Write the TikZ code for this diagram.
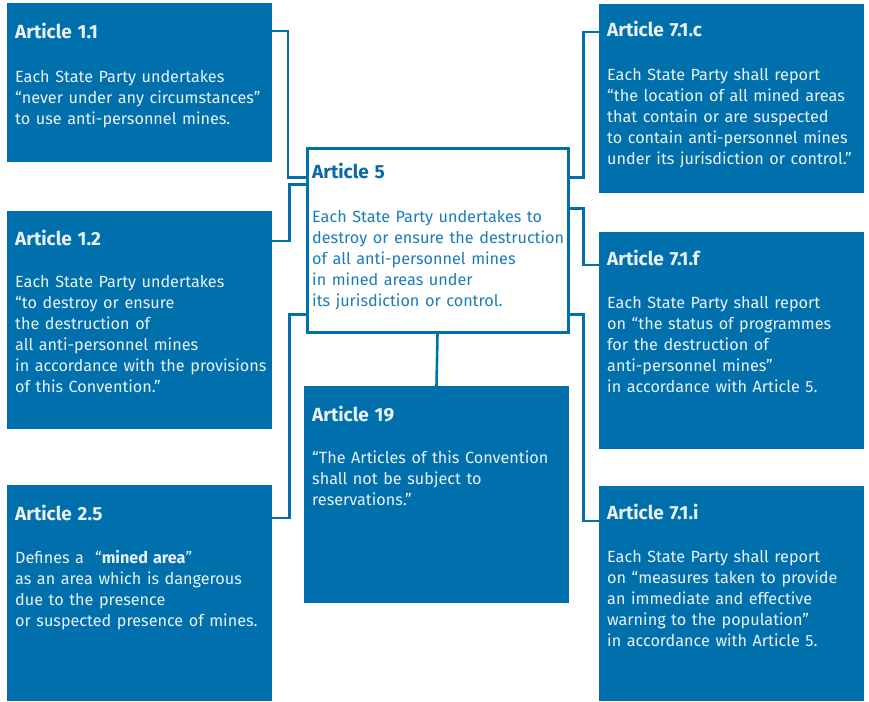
\documentclass[tikz,border=0pt]{standalone}
\usepackage{fontspec}
\setmainfont[WordSpace={1.3}]{Fira Sans}
\usetikzlibrary{calc}
\definecolor{unblue}{RGB}{0,112,172}
\definecolor{boxtext}{RGB}{234,241,247}
\definecolor{ctext}{RGB}{28,124,186}
\definecolor{ctitle}{RGB}{10,105,165}
\begin{document}
\begin{tikzpicture}[x=1pt,y=-1pt,
  box/.style={fill=unblue,draw=none,anchor=north west,inner sep=0pt,outer sep=0pt},
  cbox/.style={fill=white,draw=unblue,line width=3pt,anchor=north west,inner sep=0pt,outer sep=1.5pt},
  ttl/.style={anchor=base west,inner sep=0pt,font=\fontsize{19}{21}\selectfont\bfseries,text=boxtext},
  bdy/.style={anchor=north west,inner sep=0pt,align=left,font=\fontsize{16.2}{21}\selectfont,text=boxtext},
  link/.style={draw=unblue,line width=2.6pt}]
\useasboundingbox (0,0) rectangle (869,701);
% boxes
\node[box,minimum width=265pt,minimum height=159pt] (a11) at (7,3) {};
\node[box,minimum width=265pt,minimum height=218pt] (a12) at (7,211) {};
\node[box,minimum width=265pt,minimum height=216pt] (a25) at (7,485) {};
\node[cbox,minimum width=261pt,minimum height=184pt] (a5) at (305.5,146.5) {};
\node[box,minimum width=265pt,minimum height=217pt] (a19) at (304,386) {};
\node[box,minimum width=265pt,minimum height=189pt] (a71c) at (599,4) {};
\node[box,minimum width=265pt,minimum height=217pt] (a71f) at (599,232) {};
\node[box,minimum width=265pt,minimum height=215pt] (a71i) at (599,486) {};
% connectors
\draw[link] ($(a11.north east)+(0,28)$) -- ++(16,0) |- ($(a5.north west)+(0,31)$);
\draw[link] ($(a5.north west)+(0,38)$) -- ++(-16,0) |- ($(a12.north east)+(0,30)$);
\draw[link] ($(a5.north west)+(0,168)$) -- ++(-16,0) |- ($(a25.north east)+(0,33)$);
\draw[link] (a5.south) -- (a19.north);
\draw[link] ($(a5.north east)+(0,31)$) -- ++(14,0) |- ($(a71c.north west)+(0,28)$);
\draw[link] ($(a5.north east)+(0,62)$) -- ++(14,0) |- ($(a71f.north west)+(0,33)$);
\draw[link] ($(a5.north east)+(0,168)$) -- ++(14,0) |- ($(a71i.north west)+(0,35)$);
% Article 1.1
\node[ttl] (t11) at (15,38) {Article 1.1};
\node[bdy] (b11) at (15,67.3) {\strut Each State Party undertakes\\“never under any circumstances”\\to use anti-personnel mines.};
% Article 1.2
\node[ttl] (t12) at (15,245) {Article 1.2};
\node[bdy] (b12) at (15,272.3) {\strut Each State Party undertakes\\“to destroy or ensure\\the destruction of\\all anti-personnel mines\\in accordance with the provisions\\of this Convention.”};
% Article 2.5
\node[ttl] (t25) at (15,520) {Article 2.5};
\node[bdy] (b25) at (15,548.3) {\strut Defines a \ “\textbf{mined area}”\\as an area which is dangerous\\due to the presence\\or suspected presence of mines.};
% Article 5
\node[ttl,text=ctitle] (t5) at (312,178) {Article 5};
\node[bdy,text=ctext] (b5) at (312,207.3) {\strut Each State Party undertakes to\\destroy or ensure the destruction\\of all anti-personnel mines\\in mined areas under\\its jurisdiction or control.};
% Article 19
\node[ttl] (t19) at (312,421) {Article 19};
\node[bdy] (b19) at (312,448.3) {\strut “The Articles of this Convention\\shall not be subject to\\reservations.”};
% Article 7.1.c
\node[ttl] (t71c) at (607,37) {Article 7.1.c};
\node[bdy] (b71c) at (607,65.3) {\strut Each State Party shall report\\“the location of all mined areas\\that contain or are suspected\\to contain anti-personnel mines\\under its jurisdiction or control.”};
% Article 7.1.f
\node[ttl] (t71f) at (607,265) {Article 7.1.f};
\node[bdy] (b71f) at (607,293.3) {\strut Each State Party shall report\\on “the status of programmes\\for the destruction of\\anti-personnel mines”\\in accordance with Article 5.};
% Article 7.1.i
\node[ttl] (t71i) at (607,519) {Article 7.1.i};
\node[bdy] (b71i) at (607,547.3) {\strut Each State Party shall report\\on “measures taken to provide\\an immediate and effective\\warning to the population”\\in accordance with Article 5.};
\end{tikzpicture}
\end{document}
